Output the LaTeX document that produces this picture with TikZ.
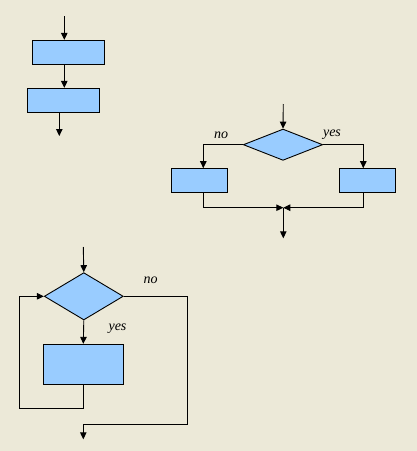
\documentclass[tikz,border=0pt]{standalone}
\usepackage{fontspec}
\setmainfont{Liberation Serif}
\usetikzlibrary{arrows.meta,shapes.geometric}
\definecolor{paper}{HTML}{ECE9D8}
\definecolor{boxfill}{HTML}{99CCFF}
\tikzset{
  flow/.style={line width=0.9pt, -{Triangle[length=7pt,width=6.5pt]}},
  stepbox/.style={draw, line width=0.9pt, fill=boxfill, inner sep=0pt},
  test/.style={draw, line width=0.9pt, fill=boxfill, diamond, inner sep=0pt, aspect=1},
  lbl/.style={font=\fontsize{14}{14}\selectfont\itshape, inner sep=0pt}
}
\begin{document}
\begin{tikzpicture}[x=1pt,y=-1pt]
  \fill[paper] (0,0) rectangle (417,451);
  \useasboundingbox (0,0) rectangle (417,451);

  % sequence
  \coordinate (s0) at (64.3,16);
  \node[stepbox, minimum width=72pt, minimum height=24pt] (a1) at (68.3,52.3) {};
  \node[stepbox, minimum width=72pt, minimum height=24pt] (a2) at (63.3,100.3) {};
  \coordinate (s1) at (59.3,136);
  \draw[flow] (s0) -- (s0 |- a1.north);
  \draw[flow] (a1.south -| s0) -- (a2.north -| s0);
  \draw[flow] (a2.south -| s1) -- (s1);

  % selection
  \coordinate (t0) at (283.3,104);
  \node[test, minimum width=79.4pt, minimum height=31.3pt] (d1) at (283,144.7) {};
  \node[stepbox, minimum width=56pt, minimum height=24pt] (b1) at (199.7,180.2) {};
  \node[stepbox, minimum width=56pt, minimum height=24pt] (b2) at (367.3,180.2) {};
  \coordinate (bl) at (203.3,168.2);
  \coordinate (br) at (363.3,168.2);
  \coordinate (j) at (283.3,207.7);
  \coordinate (t1) at (283.3,238.3);
  \draw[flow] (t0) -- (d1.north);
  \draw[flow] (d1.west) -| (bl);
  \draw[flow] (d1.east) -| (br);
  \draw[flow] (b1.south -| bl) |- (j);
  \draw[flow] (b2.south -| br) |- (j);
  \draw[flow] (j) -- (t1);
  \node[lbl] (no1) at (221,135) {no};
  \node[lbl] (yes1) at (332,135) {yes};

  % loop
  \coordinate (u0) at (83.3,247);
  \node[test, minimum width=79pt, minimum height=47.3pt] (d2) at (83.8,296.3) {};
  \node[stepbox, minimum width=80pt, minimum height=40pt] (c1) at (83.3,364.3) {};
  \coordinate (lp) at (19.3,408.3);
  \coordinate (rp) at (187.3,424);
  \coordinate (u1) at (83.3,439.3);
  \draw[flow] (u0) -- (d2.north);
  \draw[flow] (d2.south) -- (c1.north);
  \draw[flow] (c1.south) |- (lp) |- (d2.west);
  \draw[flow] (d2.east) -| (rp) -| (u1);
  \node[lbl] (no2) at (150.5,280.5) {no};
  \node[lbl] (yes2) at (117.5,328.5) {yes};
\end{tikzpicture}
\end{document}
